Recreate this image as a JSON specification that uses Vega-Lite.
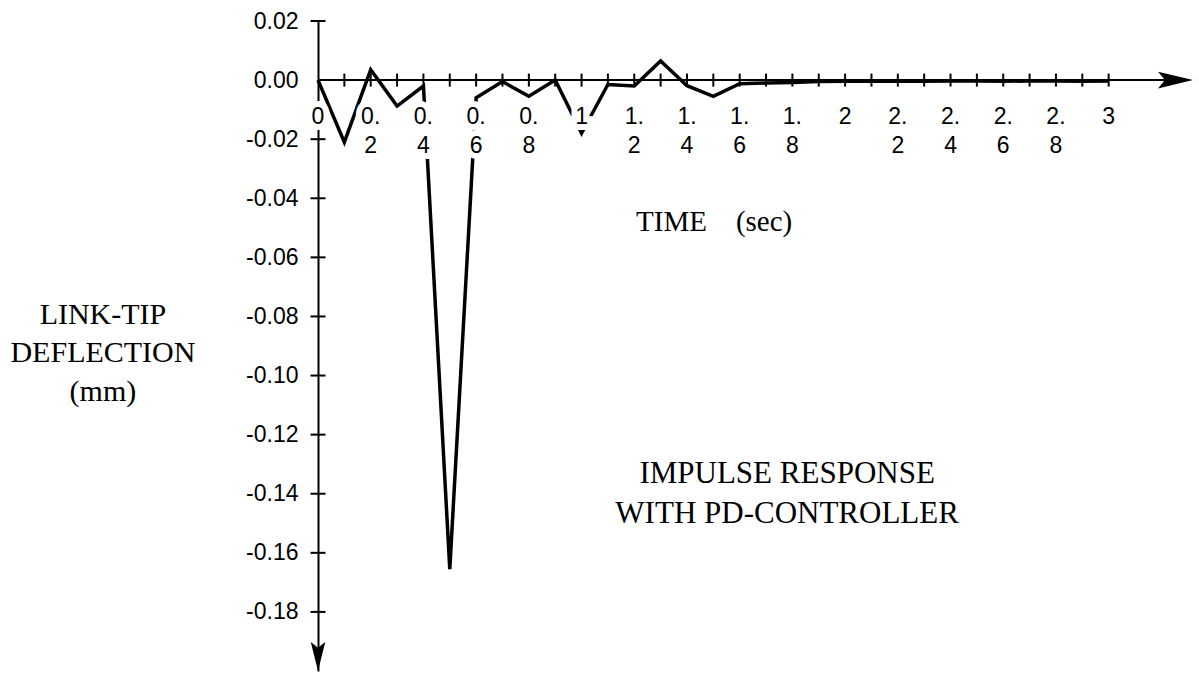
{
  "$schema": "https://vega.github.io/schema/vega-lite/v6.json",
  "width": 875,
  "height": 650,
  "autosize": {"type": "none"},
  "padding": {"left": 318, "top": 21, "right": 6, "bottom": 5},
  "background": "white",
  "config": {"view": {"stroke": null}},
  "datasets": {
    "resp": [
      {"t": 0, "v": 0}, {"t": 0.1, "v": -0.021}, {"t": 0.2, "v": 0.0035}, {"t": 0.3, "v": -0.0088},
      {"t": 0.4, "v": -0.002}, {"t": 0.5, "v": -0.1655}, {"t": 0.6, "v": -0.006}, {"t": 0.7, "v": -0.0005},
      {"t": 0.8, "v": -0.0055}, {"t": 0.9, "v": 0}, {"t": 1.0, "v": -0.018}, {"t": 1.1, "v": -0.0015},
      {"t": 1.2, "v": -0.002}, {"t": 1.3, "v": 0.0065}, {"t": 1.4, "v": -0.0019}, {"t": 1.5, "v": -0.0055},
      {"t": 1.6, "v": -0.0012}, {"t": 1.7, "v": -0.001}, {"t": 1.8, "v": -0.0008}, {"t": 1.9, "v": -0.0005},
      {"t": 2.0, "v": -0.0004}, {"t": 2.1, "v": -0.0004}, {"t": 2.2, "v": -0.0003}, {"t": 2.3, "v": -0.0004},
      {"t": 2.4, "v": -0.0003}, {"t": 2.5, "v": -0.0003}, {"t": 2.6, "v": -0.0004}, {"t": 2.7, "v": -0.0003},
      {"t": 2.8, "v": -0.0003}, {"t": 2.9, "v": -0.0004}, {"t": 3.0, "v": -0.0003}
    ],
    "xticks": [
      {"tx": 0.1}, {"tx": 0.2}, {"tx": 0.3}, {"tx": 0.4}, {"tx": 0.5}, {"tx": 0.6}, {"tx": 0.7}, {"tx": 0.8},
      {"tx": 0.9}, {"tx": 1.0}, {"tx": 1.1}, {"tx": 1.2}, {"tx": 1.3}, {"tx": 1.4}, {"tx": 1.5}, {"tx": 1.6},
      {"tx": 1.7}, {"tx": 1.8}, {"tx": 1.9}, {"tx": 2.0}, {"tx": 2.1}, {"tx": 2.2}, {"tx": 2.3}, {"tx": 2.4},
      {"tx": 2.5}, {"tx": 2.6}, {"tx": 2.7}, {"tx": 2.8}, {"tx": 2.9}, {"tx": 3.0}
    ],
    "yticks": [
      {"ty": 0.02}, {"ty": -0.02}, {"ty": -0.04}, {"ty": -0.06}, {"ty": -0.08}, {"ty": -0.1},
      {"ty": -0.12}, {"ty": -0.14}, {"ty": -0.16}, {"ty": -0.18}
    ],
    "xlabels": [
      {"tx": 0, "lab": "0"}, {"tx": 0.2, "lab": "0.\n2"}, {"tx": 0.4, "lab": "0.\n4"}, {"tx": 0.6, "lab": "0.\n6"},
      {"tx": 0.8, "lab": "0.\n8"}, {"tx": 1.0, "lab": "1"}, {"tx": 1.2, "lab": "1.\n2"}, {"tx": 1.4, "lab": "1.\n4"},
      {"tx": 1.6, "lab": "1.\n6"}, {"tx": 1.8, "lab": "1.\n8"}, {"tx": 2.0, "lab": "2"}, {"tx": 2.2, "lab": "2.\n2"},
      {"tx": 2.4, "lab": "2.\n4"}, {"tx": 2.6, "lab": "2.\n6"}, {"tx": 2.8, "lab": "2.\n8"}, {"tx": 3.0, "lab": "3"}
    ],
    "ytitle": [{"t": -0.816, "v": -0.0795, "text": "LINK-TIP\nDEFLECTION\n(mm)"}],
    "xtitle": [{"t": 1.503, "v": -0.048, "text": "TIME\u00a0\u00a0\u00a0\u00a0(sec)"}],
    "note": [{"t": 1.78, "v": -0.1333, "text": "IMPULSE RESPONSE\nWITH PD-CONTROLLER"}],
    "xarrow": [{"t": 3.32, "v": 0}],
    "yarrow": [{"t": 0, "v": -0.2}]
  },
  "layer": [
    {
      "data": {"name": "resp"},
      "mark": {"type": "line", "color": "black", "strokeWidth": 3.5, "clip": false},
      "encoding": {
        "x": {"field": "t", "type": "quantitative", "scale": {"domain": [0, 3.32], "nice": false, "zero": false}, "axis": null},
        "y": {
          "field": "v", "type": "quantitative",
          "scale": {"domain": [-0.2, 0.02], "nice": false, "zero": false},
          "axis": {
            "values": [0.02, 0, -0.02, -0.04, -0.06, -0.08, -0.1, -0.12, -0.14, -0.16, -0.18],
            "ticks": false, "grid": false, "title": null,
            "domainColor": "black", "domainWidth": 2,
            "labelFont": "Liberation Sans", "labelFontSize": 23, "labelColor": "black",
            "labelPadding": 20, "labelOverlap": false, "labelFlush": false,
            "labelExpr": "replace(format(datum.value, '.2f'), '\u2212', '-')"
          }
        }
      }
    },
    {
      "data": {"name": "xlabels"},
      "mark": {"type": "text", "lineBreak": "\n", "font": "Liberation Sans", "fontSize": 23, "lineHeight": 29,
               "align": "center", "baseline": "top", "dy": 26, "color": "white", "stroke": "white", "strokeWidth": 12},
      "encoding": {
        "x": {"field": "tx", "type": "quantitative"},
        "y": {"datum": 0, "type": "quantitative"},
        "text": {"field": "lab"}
      }
    },
    {
      "data": {"name": "xlabels"},
      "mark": {"type": "text", "lineBreak": "\n", "font": "Liberation Sans", "fontSize": 23, "lineHeight": 29,
               "align": "center", "baseline": "top", "dy": 26, "color": "black"},
      "encoding": {
        "x": {"field": "tx", "type": "quantitative"},
        "y": {"datum": 0, "type": "quantitative"},
        "text": {"field": "lab"}
      }
    },
    {
      "data": {"values": [{}]},
      "mark": {"type": "rule", "color": "black", "strokeWidth": 2},
      "encoding": {
        "x": {"datum": 0, "type": "quantitative"},
        "x2": {"datum": 3.3},
        "y": {"datum": 0, "type": "quantitative"}
      }
    },
    {
      "data": {"name": "xticks"},
      "mark": {"type": "tick", "orient": "vertical", "size": 13, "thickness": 2, "color": "black", "opacity": 1},
      "encoding": {
        "x": {"field": "tx", "type": "quantitative"},
        "y": {"datum": 0, "type": "quantitative"}
      }
    },
    {
      "data": {"name": "yticks"},
      "mark": {"type": "tick", "orient": "horizontal", "size": 15, "thickness": 2, "color": "black", "opacity": 1},
      "encoding": {
        "x": {"datum": 0, "type": "quantitative"},
        "y": {"field": "ty", "type": "quantitative"}
      }
    },
    {
      "data": {"name": "xarrow"},
      "mark": {"type": "point", "shape": "M0,0 L-1,-0.24 L-0.8,0 L-1,0.24 Z", "size": 4900, "filled": true, "color": "black", "opacity": 1},
      "encoding": {
        "x": {"field": "t", "type": "quantitative"},
        "y": {"field": "v", "type": "quantitative"}
      }
    },
    {
      "data": {"name": "yarrow"},
      "mark": {"type": "point", "shape": "M0,0 L-0.25,-1 L0,-0.8 L0.25,-1 Z", "size": 3364, "filled": true, "color": "black", "opacity": 1},
      "encoding": {
        "x": {"field": "t", "type": "quantitative"},
        "y": {"field": "v", "type": "quantitative"}
      }
    },
    {
      "data": {"name": "ytitle"},
      "mark": {"type": "text", "lineBreak": "\n", "font": "Liberation Serif", "fontSize": 30, "lineHeight": 38.5,
               "align": "center", "baseline": "middle", "color": "black"},
      "encoding": {
        "x": {"field": "t", "type": "quantitative"},
        "y": {"field": "v", "type": "quantitative"},
        "text": {"field": "text"}
      }
    },
    {
      "data": {"name": "xtitle"},
      "mark": {"type": "text", "font": "Liberation Serif", "fontSize": 29, "align": "center", "baseline": "middle", "color": "black"},
      "encoding": {
        "x": {"field": "t", "type": "quantitative"},
        "y": {"field": "v", "type": "quantitative"},
        "text": {"field": "text"}
      }
    },
    {
      "data": {"name": "note"},
      "mark": {"type": "text", "lineBreak": "\n", "font": "Liberation Serif", "fontSize": 31, "lineHeight": 40,
               "align": "center", "baseline": "middle", "color": "black"},
      "encoding": {
        "x": {"field": "t", "type": "quantitative"},
        "y": {"field": "v", "type": "quantitative"},
        "text": {"field": "text"}
      }
    }
  ]
}
